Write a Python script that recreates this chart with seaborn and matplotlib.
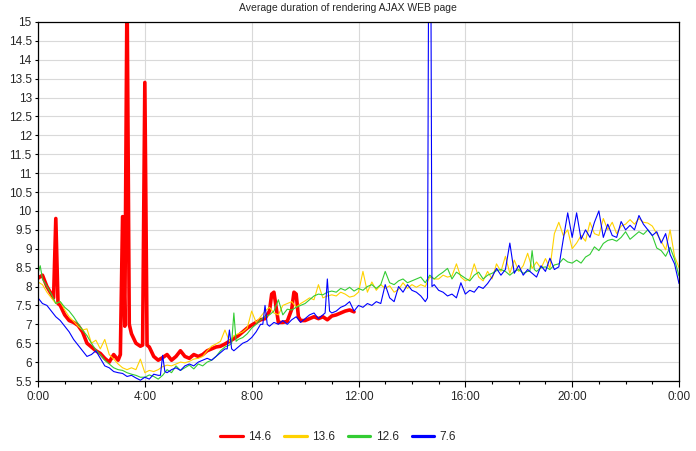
import numpy as np
import pandas as pd
import matplotlib
matplotlib.use("Agg")
import matplotlib.pyplot as plt
import seaborn as sns
from matplotlib.ticker import MultipleLocator, FuncFormatter

# -----------------------------
# Data (one row = one hour, 10 minute samples)
# -----------------------------
step_min = 10

red_vals = [
    8.22, 8.30, 8.00, 7.80, 9.80, 7.50,
    7.25, 7.10, 7.05, 6.97, 6.80, 6.50,
    6.40, 6.30, 6.23, 6.10, 6.00, 6.20,
    6.05, 9.85, 16.0, 6.75, 6.50, 6.42,
    13.4, 6.40, 6.15, 6.05, 6.12, 6.20,
    6.05, 6.15, 6.30, 6.15, 6.10, 6.20,
    6.15, 6.20, 6.30, 6.35, 6.40, 6.42,
    6.48, 6.55, 6.62, 6.70, 6.80, 6.90,
    6.98, 7.05, 7.12, 7.15, 7.35, 7.85,
    7.05, 7.05, 7.08, 7.40, 7.80, 7.10,
    7.10, 7.15, 7.20, 7.15, 7.20, 7.12,
    7.22, 7.25, 7.30, 7.35, 7.38, 7.33,
]
# extra 5 minute samples around the spikes
red_extra_min = [35, 45, 185, 195, 205, 235, 245, 525, 575, 585]
red_extra_vals = [7.70, 7.55, 6.20, 6.95, 7.00, 6.45, 6.45, 7.80, 7.85, 7.20]

yellow_vals = [
    8.12, 8.05, 7.85, 7.70, 7.55, 7.60,
    7.38, 7.20, 7.08, 6.95, 6.85, 6.88,
    6.50, 6.58, 6.35, 6.60, 6.20, 6.08,
    5.95, 5.85, 5.80, 5.85, 5.80, 6.08,
    5.72, 5.78, 5.75, 5.80, 5.88, 5.92,
    5.90, 5.95, 6.00, 5.98, 6.02, 6.08,
    6.10, 6.15, 6.30, 6.42, 6.48, 6.55,
    6.85, 6.55, 6.70, 6.75, 6.80, 6.90,
    7.35, 7.05, 7.20, 7.35, 7.45, 7.30,
    7.25, 7.50, 7.55, 7.60, 7.45, 7.55,
    7.62, 7.70, 7.65, 8.05, 7.70, 7.75,
    7.78, 7.75, 7.85, 7.80, 7.72, 7.75,
    7.85, 8.40, 7.85, 8.12, 7.90, 8.05,
    7.95, 8.02, 7.85, 7.92, 8.10, 7.95,
    8.05, 7.98, 8.05, 8.00, 8.25, 8.20,
    8.20, 8.30, 8.25, 8.28, 8.60, 8.25,
    8.15, 8.20, 8.60, 8.25, 8.15, 8.40,
    8.20, 8.60, 8.40, 8.80, 8.35, 8.70,
    8.40, 8.55, 8.88, 8.48, 8.65, 8.48,
    8.74, 8.48, 9.40, 9.70, 9.35, 9.50,
    9.00, 9.15, 9.35, 9.20, 9.70, 9.40,
    9.35, 9.80, 9.50, 9.70, 9.40, 9.60,
    9.65, 9.77, 9.65, 9.80, 9.70, 9.68,
    9.60, 9.40, 9.20, 8.97, 9.50, 8.80,
    8.50,
]
yellow_extra_min = []
yellow_extra_vals = []

green_vals = [
    8.35, 8.20, 8.00, 7.80, 7.55, 7.60,
    7.45, 7.35, 7.20, 7.02, 6.85, 6.70,
    6.50, 6.32, 6.20, 6.05, 5.95, 5.85,
    5.80, 5.78, 5.72, 5.68, 5.65, 5.60,
    5.60, 5.66, 5.62, 5.55, 5.65, 5.80,
    5.72, 5.90, 5.78, 5.85, 5.92, 5.82,
    5.95, 5.90, 6.00, 6.05, 6.15, 6.30,
    6.40, 6.45, 7.30, 6.60, 6.65, 6.75,
    6.90, 7.00, 7.12, 7.20, 7.25, 7.35,
    7.65, 7.25, 7.40, 7.38, 7.45, 7.50,
    7.55, 7.65, 7.75, 7.80, 7.78, 7.85,
    7.88, 7.85, 7.95, 7.90, 7.98, 7.88,
    7.95, 7.90, 8.00, 8.05, 7.95, 8.05,
    8.40, 8.10, 8.05, 8.15, 8.20, 8.10,
    8.15, 8.20, 8.25, 8.10, 8.30, 8.20,
    8.30, 8.38, 8.48, 8.20, 8.38, 8.30,
    8.22, 8.15, 8.30, 8.38, 8.20, 8.30,
    8.35, 8.42, 8.45, 8.40, 8.30, 8.40,
    8.45, 8.35, 8.40, 8.95, 8.40, 8.50,
    8.52, 8.45, 8.57, 8.60, 8.74, 8.65,
    8.62, 8.70, 8.62, 8.78, 8.85, 9.05,
    8.95, 9.14, 9.22, 9.25, 9.20, 9.30,
    9.45, 9.25, 9.35, 9.45, 9.38, 9.50,
    9.35, 9.02, 8.95, 8.80, 9.04, 8.72,
    8.28,
]
green_extra_min = [5, 435, 445, 1105, 1115]
green_extra_vals = [8.55, 6.50, 6.55, 8.40, 8.45]

blue_vals = [
    7.70, 7.55, 7.50, 7.35, 7.20, 7.10,
    6.95, 6.80, 6.60, 6.45, 6.30, 6.15,
    6.20, 6.30, 6.10, 5.90, 5.85, 5.75,
    5.72, 5.70, 5.62, 5.65, 5.58, 5.52,
    5.60, 5.55, 5.68, 5.65, 6.18, 5.72,
    5.80, 5.85, 5.78, 5.90, 5.95, 5.90,
    6.00, 6.05, 6.10, 6.05, 6.15, 6.25,
    6.35, 6.85, 6.30, 6.40, 6.50, 6.55,
    6.65, 6.80, 7.00, 7.50, 6.95, 7.05,
    7.00, 7.10, 7.00, 7.12, 7.20, 7.05,
    7.15, 7.25, 7.30, 7.15, 7.25, 8.20,
    7.30, 7.35, 7.45, 7.50, 7.60, 7.35,
    7.50, 7.45, 7.55, 7.50, 7.60, 7.55,
    8.05, 7.70, 7.60, 8.00, 7.85, 8.05,
    7.90, 7.85, 7.75, 7.60, 25.0, 8.05,
    7.90, 7.85, 7.75, 7.80, 7.70, 8.10,
    7.80, 7.90, 7.85, 8.00, 7.95, 8.08,
    8.25, 8.48, 8.30, 8.45, 9.15, 8.35,
    8.56, 8.30, 8.45, 8.35, 8.25, 8.55,
    8.40, 8.75, 8.45, 8.52, 9.25, 9.95,
    9.30, 9.95, 9.25, 9.50, 9.30, 9.70,
    10.0, 9.30, 9.65, 9.35, 9.30, 9.72,
    9.50, 9.62, 9.50, 9.88, 9.65, 9.50,
    9.35, 9.45, 9.15, 9.40, 8.85, 8.60,
    8.08,
]
blue_extra_min = [275, 285, 425, 435, 505, 515, 645, 655, 875, 885]
blue_extra_vals = [5.65, 5.75, 6.35, 6.35, 7.00, 7.00, 7.30, 7.35, 7.70, 8.00]

series_names = ["14.6", "13.6", "12.6", "7.6"]
series_colors = ["#ff0000", "#ffd200", "#33cc33", "#0000ff"]
series_widths = [2.6, 0.8, 0.8, 0.8]
title = "Average duration of rendering AJAX WEB page"


def series_frame(vals, extra_min, extra_vals):
    minutes = list(np.arange(len(vals)) * step_min) + list(extra_min)
    values = list(vals) + list(extra_vals)
    d = pd.DataFrame({"minute": minutes, "value": values}).sort_values("minute")
    d["hour"] = d["minute"] / 60.0
    return d


frames = [
    series_frame(red_vals, red_extra_min, red_extra_vals),
    series_frame(yellow_vals, yellow_extra_min, yellow_extra_vals),
    series_frame(green_vals, green_extra_min, green_extra_vals),
    series_frame(blue_vals, blue_extra_min, blue_extra_vals),
]

# -----------------------------
# Plot
# -----------------------------
sns.set_theme(style="white")
plt.rcParams["font.family"] = ["Liberation Sans", "DejaVu Sans"]

fig = plt.figure(figsize=(6.96, 4.51), dpi=100)
ax = fig.add_axes([38 / 696, 1 - 381 / 451, 641 / 696, 359 / 451])

for d, name, col, lw in zip(frames, series_names, series_colors, series_widths):
    sns.lineplot(data=d, x="hour", y="value", color=col, linewidth=lw,
                 label=name, estimator=None, sort=False, ax=ax)

handles, labels = ax.get_legend_handles_labels()
if ax.get_legend() is not None:
    ax.get_legend().remove()

ax.set_xlim(0, 24)
ax.set_ylim(5.5, 15)
ax.xaxis.set_major_locator(MultipleLocator(4))
ax.xaxis.set_minor_locator(MultipleLocator(1))
ax.xaxis.set_major_formatter(FuncFormatter(lambda h, p: f"{int(round(h)) % 24}:00"))
ax.yaxis.set_major_locator(MultipleLocator(0.5))
ax.yaxis.set_major_formatter(FuncFormatter(lambda v, p: f"{v:g}"))

ax.grid(True, which="major", color="#d9d9d9", linewidth=0.8)
ax.set_axisbelow(True)
for s in ax.spines.values():
    s.set_color("black")
    s.set_linewidth(0.9)

ax.tick_params(axis="x", which="major", direction="out", length=4, width=0.8,
               color="black", labelsize=8.5, pad=3, bottom=True)
ax.tick_params(axis="x", which="minor", direction="out", length=2.5, width=0.8,
               color="black", bottom=True)
ax.tick_params(axis="y", which="major", direction="out", length=2.5, width=0.8,
               color="black", labelsize=8.5, pad=2, left=True)
ax.set_xlabel("")
ax.set_ylabel("")

fig.text(0.5, 1 - 8 / 451, title, ha="center", va="center", fontsize=7.5)

leg = fig.legend(handles, labels, loc="center", bbox_to_anchor=(338 / 696, 1 - 437 / 451),
                 ncol=4, frameon=False, fontsize=8.5, handlelength=1.9,
                 handletextpad=0.45, columnspacing=1.1)
for line in leg.get_lines():
    line.set_linewidth(2.3)

fig.savefig("out.png", dpi=100)
